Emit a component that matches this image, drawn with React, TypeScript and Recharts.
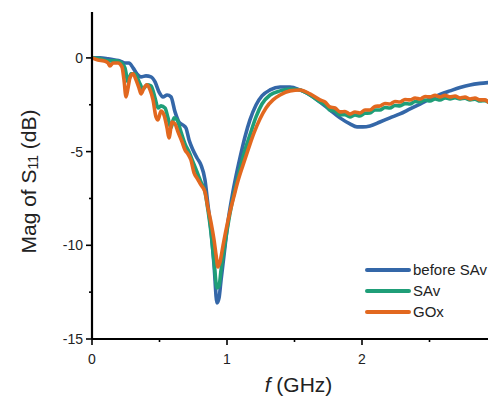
import React from "react";
import { LineChart, Line, XAxis, YAxis, Legend } from "recharts";

const FONT = "'Liberation Sans', Arial, sans-serif";

// Frequency (GHz) and magnitude (dB) for each trace
const beforeF = [0, 0.059, 0.119, 0.17, 0.207, 0.244, 0.274, 0.304, 0.333, 0.363, 0.4, 0.437, 0.467, 0.496, 0.526, 0.556, 0.585, 0.615, 0.644, 0.674, 0.696, 0.719, 0.748, 0.778, 0.807, 0.837, 0.859, 0.881, 0.904, 0.926, 0.941, 0.956, 0.978, 1.007, 1.037, 1.067, 1.096, 1.133, 1.17, 1.215, 1.259, 1.319, 1.393, 1.467, 1.541, 1.615, 1.689, 1.763, 1.837, 1.911, 1.963, 2.007, 2.059, 2.133, 2.207, 2.281, 2.356, 2.43, 2.504, 2.578, 2.652, 2.726, 2.8, 2.874, 2.948, 3.0];
const beforeDb = [0, 0, -0.05, -0.11, -0.16, -0.27, -0.27, -0.53, -0.85, -1.01, -0.96, -1.01, -1.28, -1.81, -2.08, -1.98, -2.08, -2.88, -3.42, -3.58, -3.74, -4.38, -4.91, -5.34, -5.71, -6.51, -7.85, -9.18, -11.05, -13.08, -12.81, -11.85, -10.52, -8.76, -7.42, -6.3, -5.34, -4.22, -3.31, -2.51, -2.03, -1.71, -1.55, -1.55, -1.71, -1.98, -2.35, -2.78, -3.2, -3.52, -3.68, -3.68, -3.63, -3.42, -3.2, -2.99, -2.72, -2.46, -2.19, -1.95, -1.76, -1.58, -1.44, -1.36, -1.31, -1.28];

const savF = [0, 0.059, 0.119, 0.17, 0.207, 0.244, 0.267, 0.289, 0.319, 0.356, 0.378, 0.407, 0.437, 0.467, 0.489, 0.511, 0.541, 0.563, 0.585, 0.607, 0.63, 0.659, 0.689, 0.719, 0.748, 0.778, 0.807, 0.837, 0.859, 0.881, 0.904, 0.926, 0.941, 0.956, 0.978, 1.007, 1.037, 1.067, 1.096, 1.133, 1.17, 1.215, 1.259, 1.319, 1.393, 1.467, 1.541, 1.615, 1.689, 1.726, 1.763, 1.8, 1.837, 1.874, 1.911, 1.948, 1.985, 2.022, 2.059, 2.096, 2.133, 2.17, 2.207, 2.244, 2.281, 2.318, 2.356, 2.393, 2.43, 2.467, 2.504, 2.541, 2.578, 2.615, 2.652, 2.689, 2.726, 2.763, 2.8, 2.837, 2.874, 2.911, 2.948, 3.0];
const savDb = [0, -0.05, -0.16, -0.16, -0.21, -0.53, -1.28, -0.85, -0.85, -1.39, -1.66, -1.44, -1.49, -2.14, -2.67, -2.56, -2.67, -3.2, -3.74, -3.2, -3.31, -3.95, -4.59, -5.02, -5.55, -6.09, -6.62, -7.15, -8.12, -9.29, -10.89, -12.28, -12.17, -11.32, -10.25, -8.92, -7.74, -6.78, -5.93, -4.91, -4.11, -3.15, -2.46, -1.98, -1.76, -1.66, -1.71, -1.98, -2.35, -2.49, -2.78, -2.84, -3.04, -3.03, -3.15, -3.05, -3.1, -2.95, -2.94, -2.78, -2.78, -2.65, -2.67, -2.54, -2.56, -2.44, -2.46, -2.33, -2.35, -2.25, -2.3, -2.19, -2.24, -2.13, -2.19, -2.12, -2.19, -2.15, -2.24, -2.2, -2.3, -2.28, -2.4, -2.51];

const goxF = [0, 0.044, 0.089, 0.119, 0.133, 0.156, 0.193, 0.222, 0.237, 0.252, 0.267, 0.281, 0.304, 0.326, 0.348, 0.363, 0.385, 0.407, 0.43, 0.452, 0.474, 0.489, 0.511, 0.533, 0.556, 0.57, 0.593, 0.615, 0.637, 0.667, 0.689, 0.711, 0.733, 0.756, 0.778, 0.807, 0.837, 0.859, 0.881, 0.904, 0.919, 0.933, 0.948, 0.97, 0.993, 1.022, 1.052, 1.081, 1.119, 1.156, 1.2, 1.244, 1.289, 1.341, 1.393, 1.467, 1.541, 1.615, 1.689, 1.726, 1.763, 1.8, 1.837, 1.874, 1.911, 1.948, 1.985, 2.022, 2.059, 2.096, 2.133, 2.17, 2.207, 2.244, 2.281, 2.318, 2.356, 2.393, 2.43, 2.467, 2.504, 2.541, 2.578, 2.615, 2.652, 2.689, 2.726, 2.763, 2.8, 2.837, 2.874, 2.911, 2.948, 2.978, 3.0];
const goxDb = [0, -0.11, -0.16, -0.27, -0.43, -0.27, -0.27, -0.48, -1.17, -2.08, -1.6, -1.07, -0.85, -1.17, -1.6, -1.92, -1.6, -1.44, -1.71, -2.24, -3.15, -3.31, -2.83, -3.04, -3.74, -4.27, -3.42, -3.52, -3.95, -4.48, -4.91, -5.13, -5.45, -6.14, -6.41, -6.78, -7.15, -8.01, -8.76, -9.72, -10.52, -11.16, -10.89, -10.04, -9.18, -8.22, -7.37, -6.57, -5.71, -4.91, -4.0, -3.26, -2.67, -2.24, -1.98, -1.76, -1.71, -1.92, -2.24, -2.35, -2.62, -2.67, -2.88, -2.86, -2.99, -2.89, -2.94, -2.78, -2.78, -2.59, -2.56, -2.43, -2.46, -2.33, -2.35, -2.22, -2.24, -2.14, -2.19, -2.06, -2.08, -2.0, -2.08, -2.0, -2.08, -2.03, -2.14, -2.09, -2.19, -2.14, -2.24, -2.24, -2.4, -2.4, -2.56];

const seriesNames = ["before SAv", "SAv", "GOx"];
const seriesColors = ["#3467a8", "#1f9e78", "#e2681f"];

const xTicks = [0, 0.5, 1, 1.5, 2, 2.5, 3];
const yTicks = [-15, -12.5, -10, -7.5, -5, -2.5, 0];

const toRows = (fs: number[], vs: number[]) => fs.map((f, i) => ({ f, v: vs[i] }));
const seriesData = [toRows(beforeF, beforeDb), toRows(savF, savDb), toRows(goxF, goxDb)];

const YTick = (props: any) => {
  const { x, y, payload } = props;
  const v = payload.value;
  const major = v % 5 === 0;
  return (
    <g>
      <line x1={x} x2={x - (major ? 6 : 3)} y1={y} y2={y} stroke="#000" strokeWidth={1.6} />
      {major && (
        <text x={x - 9} y={y} dy="0.36em" textAnchor="end" fontSize={14} fill="#222" fontFamily={FONT}>
          {v}
        </text>
      )}
    </g>
  );
};

const XTick = (props: any) => {
  const { x, y, payload } = props;
  const v = payload.value;
  const major = v % 1 === 0;
  return (
    <g>
      <line x1={x} x2={x} y1={y} y2={y + (major ? 6 : 3)} stroke="#000" strokeWidth={1.6} />
      {major && (
        <text x={x} y={y + 25} textAnchor="middle" fontSize={14} fill="#222" fontFamily={FONT}>
          {v}
        </text>
      )}
    </g>
  );
};

const YLabel = (props: any) => {
  const { viewBox } = props;
  const cx = viewBox.x + 16;
  const cy = viewBox.y + viewBox.height / 2 + 6;
  return (
    <text
      x={cx}
      y={cy}
      transform={`rotate(-90 ${cx} ${cy})`}
      textAnchor="middle"
      dominantBaseline="central"
      fontSize={21}
      fill="#222"
      fontFamily={FONT}
    >
      <tspan>Mag of S</tspan>
      <tspan fontSize={14} dy={5}>11</tspan>
      <tspan dy={-5}> (dB)</tspan>
    </text>
  );
};

const XLabel = (props: any) => {
  const { viewBox } = props;
  const cx = viewBox.x + viewBox.width / 2 + 4;
  const cy = viewBox.y + 53;
  return (
    <text x={cx} y={cy} textAnchor="middle" fontSize={21} fill="#222" fontFamily={FONT}>
      <tspan fontStyle="italic">f</tspan>
      <tspan> (GHz)</tspan>
    </text>
  );
};

const renderLegend = () => (
  <div style={{ fontFamily: FONT, fontSize: 15, color: "#222" }}>
    {seriesNames.map((name, i) => (
      <div key={name} style={{ display: "flex", alignItems: "center", height: 21 }}>
        <svg width={46} height={6} style={{ display: "block" }}>
          <line x1={2} x2={44} y1={3} y2={3} stroke={seriesColors[i]} strokeWidth={4} strokeLinecap="round" />
        </svg>
        <span style={{ marginLeft: 2, lineHeight: "21px" }}>{name}</span>
      </div>
    ))}
  </div>
);

export default function App() {
  return (
    <div style={{ width: 488, height: 398, overflow: "hidden", fontFamily: FONT, background: "#fff" }}>
      <LineChart width={500} height={398} margin={{ top: 4, right: 11, bottom: 0, left: 4 }}>
        <XAxis
          xAxisId="top"
          orientation="top"
          dataKey="f"
          type="number"
          domain={[0, 3]}
          height={0}
          tick={false}
          tickLine={false}
          axisLine={{ stroke: "#000", strokeWidth: 2.2 }}
        />
        <XAxis
          dataKey="f"
          type="number"
          domain={[0, 3]}
          allowDataOverflow
          ticks={xTicks}
          interval={0}
          height={67}
          tickSize={0}
          tickMargin={0}
          tickLine={false}
          tick={<XTick />}
          axisLine={{ stroke: "#000", strokeWidth: 2.2 }}
          label={<XLabel />}
        />
        <YAxis
          type="number"
          domain={[-15, 2.45]}
          allowDataOverflow
          ticks={yTicks}
          interval={0}
          width={80}
          tickSize={0}
          tickMargin={0}
          tickLine={false}
          tick={<YTick />}
          axisLine={{ stroke: "#000", strokeWidth: 2.2 }}
          label={<YLabel />}
        />
        {seriesData.map((d, i) => (
          <Line
            key={seriesNames[i]}
            data={d}
            dataKey="v"
            name={seriesNames[i]}
            type="monotone"
            stroke={seriesColors[i]}
            strokeWidth={3.6}
            dot={false}
            isAnimationActive={false}
            strokeLinejoin="round"
            strokeLinecap="round"
          />
        ))}
        <Legend
          layout="vertical"
          align="center"
          verticalAlign="middle"
          wrapperStyle={{ left: 357, top: 251, width: 140, right: "auto", bottom: "auto" }}
          content={renderLegend}
        />
      </LineChart>
    </div>
  );
}
